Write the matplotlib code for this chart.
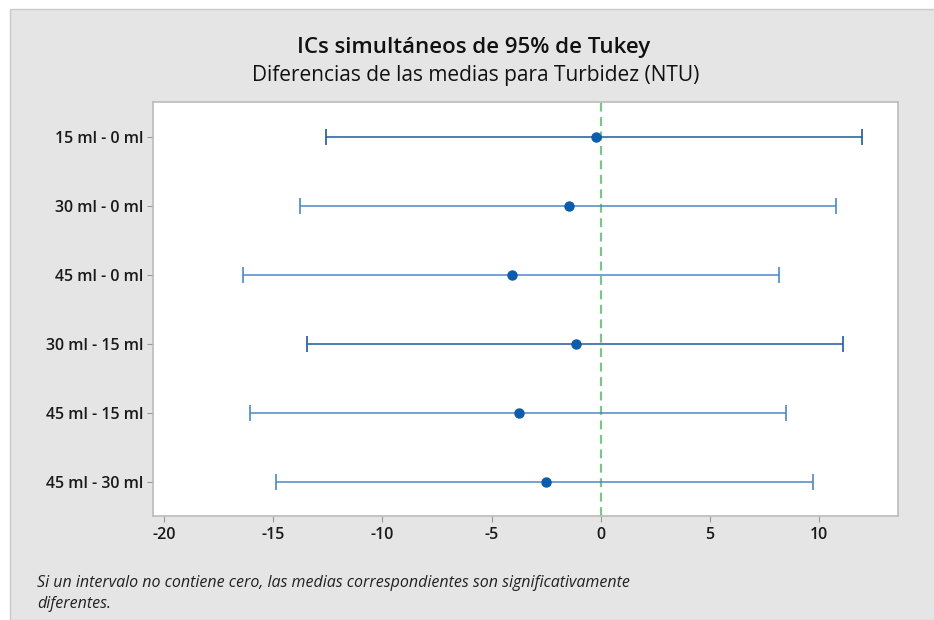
import matplotlib.pyplot as plt
from matplotlib.patches import Rectangle

plt.rcParams['font.family'] = ['Open Sans', 'DejaVu Sans']

labels = ["15 ml - 0 ml", "30 ml - 0 ml", "45 ml - 0 ml",
          "30 ml - 15 ml", "45 ml - 15 ml", "45 ml - 30 ml"]
centers = [-0.23, -1.46, -4.07, -1.14, -3.75, -2.52]
lower = [-12.59, -13.78, -16.38, -13.46, -16.06, -14.87]
upper = [11.95, 10.76, 8.15, 11.08, 8.47, 9.70]
line_colors = ["#1f5a9e", "#4a88c8", "#4a88c8", "#1f5a9e", "#4a88c8", "#4a88c8"]
xticks = [-20, -15, -10, -5, 0, 5, 10]

fig = plt.figure(figsize=(9.34, 6.2), dpi=100)
fig.patch.set_facecolor("white")
fig.patches.append(Rectangle((10 / 934, 0), 1, 1 - 9 / 620, transform=fig.transFigure,
                             facecolor="#e5e5e5", edgecolor="#c8c8c8", linewidth=1, zorder=-5))

ax = fig.add_axes([153 / 934, 1 - 516 / 620, 745 / 934, 414 / 620])
ax.set_zorder(2)
ax.set_facecolor("white")

for i, lab in enumerate(labels):
    y = i + 1
    ax.errorbar(centers[i], y, xerr=[[centers[i] - lower[i]], [upper[i] - centers[i]]],
                fmt="none", ecolor=line_colors[i], elinewidth=1.1, capsize=6, capthick=1.2)
    ax.plot(centers[i], y, "o", color="#0b5cad", markersize=6.5, zorder=3)

ax.axvline(0, color="#7cc48a", linestyle=(0, (4, 2.5)), linewidth=1.6, zorder=1)

ax.set_xlim(-20.5, 13.6)
ax.set_ylim(6.5, 0.5)
ax.set_yticks(range(1, 7))
ax.set_yticklabels(labels, fontsize=11.5, fontweight="semibold", color="#1a1a1a")
ax.set_xticks(xticks)
ax.set_xticklabels([str(t) for t in xticks], fontsize=11.5, fontweight="semibold", color="#1a1a1a")
ax.tick_params(axis="both", length=4, color="#999999", width=0.8)
ax.tick_params(axis="y", pad=3)
ax.tick_params(axis="x", pad=4)
for s in ax.spines.values():
    s.set_color("#bbbbbb")
    s.set_linewidth(1.2)

fig.text(0.507, 1 - 47 / 620, "ICs simultáneos de 95% de Tukey", ha="center", va="center",
         fontsize=16, fontweight="semibold", color="#111111")
fig.text(0.509, 1 - 75 / 620, "Diferencias de las medias para Turbidez (NTU)", ha="center", va="center",
         fontsize=15, color="#111111")

fig.text(37 / 934, 1 - 583 / 620, "Si un intervalo no contiene cero, las medias correspondientes son significativamente",
         ha="left", va="center", fontsize=11.5, style="italic", color="#222222")
fig.text(37 / 934, 1 - 604 / 620, "diferentes.",
         ha="left", va="center", fontsize=11.5, style="italic", color="#222222")

fig.savefig("out.png", dpi=100, facecolor=fig.get_facecolor())
